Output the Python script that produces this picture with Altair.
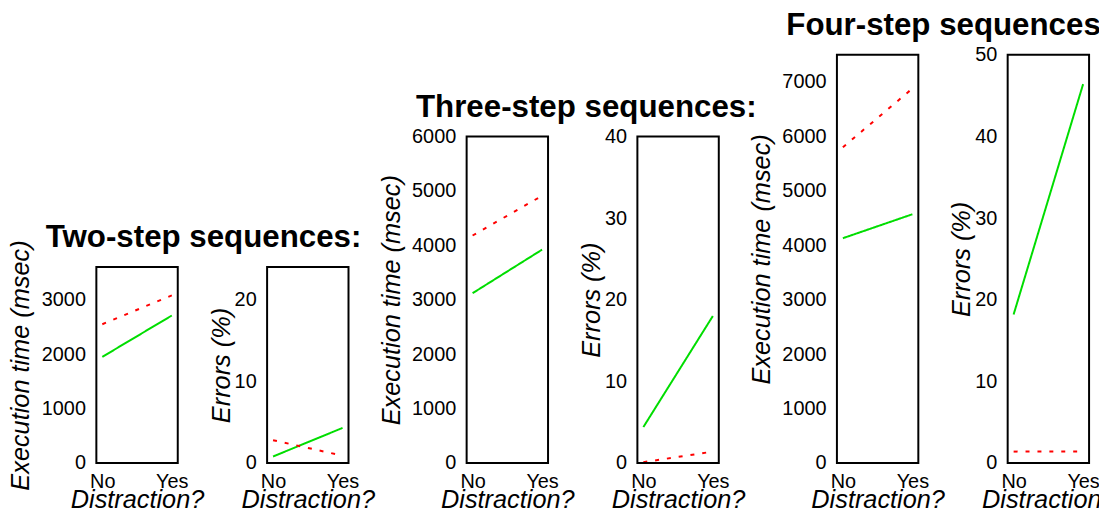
import altair as alt
import pandas as pd

# ---- data ----
conditions = ["No", "Yes"]
series = ["green", "red"]

two_exec_green = [1950, 2710]
two_exec_red = [2550, 3080]
two_err_green = [0.8, 4.3]
two_err_red = [2.8, 0.9]

three_exec_green = [3120, 3920]
three_exec_red = [4180, 4910]
three_err_green = [4.4, 18.0]
three_err_red = [0.1, 1.4]

four_exec_green = [4130, 4570]
four_exec_red = [5800, 6880]
four_err_green = [18.2, 46.4]
four_err_red = [1.4, 1.4]

titles = ["Two-step sequences:", "Three-step sequences:", "Four-step sequences:"]
exec_tops = [3600, 6000, 7500]
err_tops = [24, 40, 50]
exec_ticks = [[0, 1000, 2000, 3000],
              [0, 1000, 2000, 3000, 4000, 5000, 6000],
              [0, 1000, 2000, 3000, 4000, 5000, 6000, 7000]]
err_ticks = [[0, 10, 20], [0, 10, 20, 30, 40], [0, 10, 20, 30, 40, 50]]

# ---- layout constants ----
H = 411
BOX_W = 82
K_EXEC = 329 / 6000.0
K_ERR = 329 / 40.0
FONT = "Liberation Sans"
LABEL_SIZE = 20
TITLE_SIZE = 25.5
PAD_LEFT = 89
PAD_TOP = 44


def panel(green, red, top, k, ticks, ytitle, title_x, view_w, title=None):
    df = pd.DataFrame({
        "cond": conditions * 2,
        "series": [series[0]] * 2 + [series[1]] * 2,
        "value": list(green) + list(red),
    })
    h = top * k
    yscale = alt.Scale(domain=[0, top], range=[H, H - h], nice=False, zero=True)
    yaxis = alt.Axis(values=ticks, format="d", title=ytitle, titleX=title_x,
                     titleY=H - h / 2, titleAngle=270, titleAlign="center",
                     titleBaseline="middle", labelPadding=11, tickSize=0,
                     ticks=False, domain=False, grid=False,
                     labelFont=FONT, labelFontSize=LABEL_SIZE, labelColor="black",
                     titleFont=FONT, titleFontSize=TITLE_SIZE, titleFontStyle="italic",
                     titleFontWeight="normal", titleColor="black")
    xscale = alt.Scale(type="point", domain=conditions, range=[6, BOX_W - 6], padding=0)
    xaxis = alt.Axis(title="Distraction?", labelAngle=0, ticks=False, tickSize=0,
                     domain=False, grid=False, labelPadding=9,
                     titleY=45, titleX=BOX_W / 2, titleBaseline="alphabetic",
                     labelFont=FONT, labelFontSize=LABEL_SIZE, labelColor="black",
                     titleFont=FONT, titleFontSize=TITLE_SIZE, titleFontStyle="italic",
                     titleFontWeight="normal", titleColor="black")

    lines = alt.Chart(df).mark_line(strokeWidth=2).encode(
        x=alt.X("cond:N", scale=xscale, axis=xaxis, sort=conditions),
        y=alt.Y("value:Q", scale=yscale, axis=yaxis),
        color=alt.Color("series:N", scale=alt.Scale(domain=series, range=["#00dd00", "#ff0000"]), legend=None),
        strokeDash=alt.StrokeDash("series:N", scale=alt.Scale(domain=series, range=[[1, 0], [4, 8]]), legend=None),
    )
    boxdf = pd.DataFrame({"top": [top], "bottom": [0], "t": [title or ""]})
    box = alt.Chart(boxdf).mark_rect(fill=None, fillOpacity=0, stroke="black", strokeWidth=2).encode(
        x=alt.value(0), x2=alt.value(BOX_W),
        y=alt.Y("top:Q", scale=yscale, axis=yaxis),
        y2="bottom:Q",
    )
    layers = [lines, box]
    if title:
        txt = alt.Chart(boxdf).mark_text(align="left", baseline="alphabetic", dy=-20,
                                         font=FONT, fontSize=31.5, fontWeight="bold",
                                         color="black").encode(
            x=alt.value(-51),
            y=alt.Y("top:Q", scale=yscale, axis=yaxis),
            text="t:N",
        )
        layers.append(txt)
    return alt.layer(*layers).properties(width=view_w, height=H)


panels = []
exec_g = [two_exec_green, three_exec_green, four_exec_green]
exec_r = [two_exec_red, three_exec_red, four_exec_red]
err_g = [two_err_green, three_err_green, four_err_green]
err_r = [two_err_red, three_err_red, four_err_red]
for i in range(3):
    panels.append(panel(exec_g[i], exec_r[i], exec_tops[i], K_EXEC, exec_ticks[i],
                        "Execution time (msec)", -76, BOX_W, titles[i]))
    panels.append(panel(err_g[i], err_r[i], err_tops[i], K_ERR, err_ticks[i],
                        "Errors (%)", -46, BOX_W + 29 if i < 2 else BOX_W))

chart = alt.hconcat(*panels, spacing=90, bounds="flush").resolve_scale(
    x="independent", y="independent", color="independent", strokeDash="independent"
).properties(
    autosize=alt.AutoSizeParams(type="none"),
    padding={"left": PAD_LEFT, "top": PAD_TOP, "right": 1099 - PAD_LEFT,
             "bottom": 505 - PAD_TOP},
    background="white",
).configure_view(stroke=None)

chart.save("out.html", embed_options={"renderer": "svg", "actions": False})
